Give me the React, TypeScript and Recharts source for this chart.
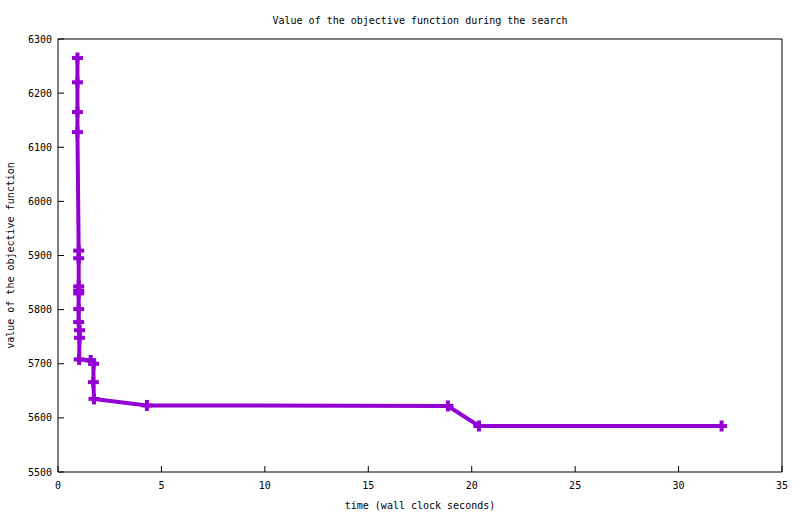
import { LineChart, Line, XAxis, YAxis } from "recharts";

// time in wall clock seconds, and objective value at that time
const times = [
  0.94, 0.94, 0.94, 0.94, 1.0, 1.0, 1.0, 1.0, 1.0, 1.0, 1.0, 1.04, 1.04, 1.02,
  1.58, 1.72, 1.71, 1.74, 4.3, 18.85, 20.35, 32.08,
];
const values = [
  6265, 6220, 6165, 6128, 5909, 5895, 5843, 5835, 5830, 5801, 5777, 5762, 5748,
  5708, 5706, 5700, 5666, 5635, 5623, 5622, 5585, 5585,
];

const xTicks = [0, 5, 10, 15, 20, 25, 30, 35];
const yTicks = [5500, 5600, 5700, 5800, 5900, 6000, 6100, 6200, 6300];

const title = "Value of the objective function during the search";
const xLabel = "time (wall clock seconds)";
const yLabel = "value of the objective function";

const data = times.map((t, i) => ({ time: t, value: values[i] }));

const FONT = "'DejaVu Sans Mono', monospace";
const COLOR = "#9400d3";
const tickStyle = { fontSize: 10, fontFamily: FONT, fill: "#000" };
const textStyle = { fontSize: 10, fontFamily: FONT, fill: "#000" };

/**
 * Thick plus marker, like gnuplot's point type 1.
 */
const PlusDot = (props: any) => {
  const { cx, cy, index } = props;
  if (cx == null || cy == null) return <g key={index} />;
  return (
    <g key={index} fill={COLOR}>
      <rect x={cx - 5.5} y={cy - 2} width={11} height={4} />
      <rect x={cx - 2} y={cy - 5.5} width={4} height={11} />
    </g>
  );
};

const App = () => {
  return (
    <div style={{ position: "absolute", left: 0, top: 0, background: "#fff" }}>
      <LineChart
        width={800}
        height={514}
        data={data}
        margin={{ top: 38, right: 17, bottom: 0, left: 0 }}
      >
        <XAxis
          dataKey="time"
          type="number"
          domain={[0, 35]}
          ticks={xTicks}
          interval={0}
          height={42}
          tickSize={-6}
          tickMargin={16}
          tick={tickStyle}
          stroke="#000"
          label={{
            value: xLabel,
            position: "insideBottom",
            offset: 5,
            style: textStyle,
          }}
        />
        <XAxis
          xAxisId="top"
          dataKey="time"
          orientation="top"
          type="number"
          domain={[0, 35]}
          ticks={xTicks}
          interval={0}
          height={1}
          tickSize={-6}
          tick={false}
          stroke="#000"
          label={{
            value: title,
            position: "top",
            offset: 14,
            style: textStyle,
          }}
        />
        <YAxis
          type="number"
          domain={[5500, 6300]}
          ticks={yTicks}
          interval={0}
          width={58}
          tickSize={-6}
          tickMargin={12}
          tick={tickStyle}
          stroke="#000"
          label={{
            value: yLabel,
            angle: -90,
            position: "insideLeft",
            offset: 10,
            style: { ...textStyle, textAnchor: "middle" },
          }}
        />
        <YAxis
          yAxisId="right"
          orientation="right"
          type="number"
          domain={[5500, 6300]}
          ticks={yTicks}
          interval={0}
          width={1}
          tickSize={-6}
          tick={false}
          stroke="#000"
        />
        {/* invisible series so the mirrored top/right axes get drawn */}
        <Line
          xAxisId="top"
          yAxisId="right"
          dataKey="value"
          stroke="none"
          dot={false}
          activeDot={false}
          isAnimationActive={false}
        />
        <Line
          type="linear"
          dataKey="value"
          stroke={COLOR}
          strokeWidth={4}
          dot={PlusDot}
          activeDot={false}
          isAnimationActive={false}
        />
      </LineChart>
    </div>
  );
};

export default App;
